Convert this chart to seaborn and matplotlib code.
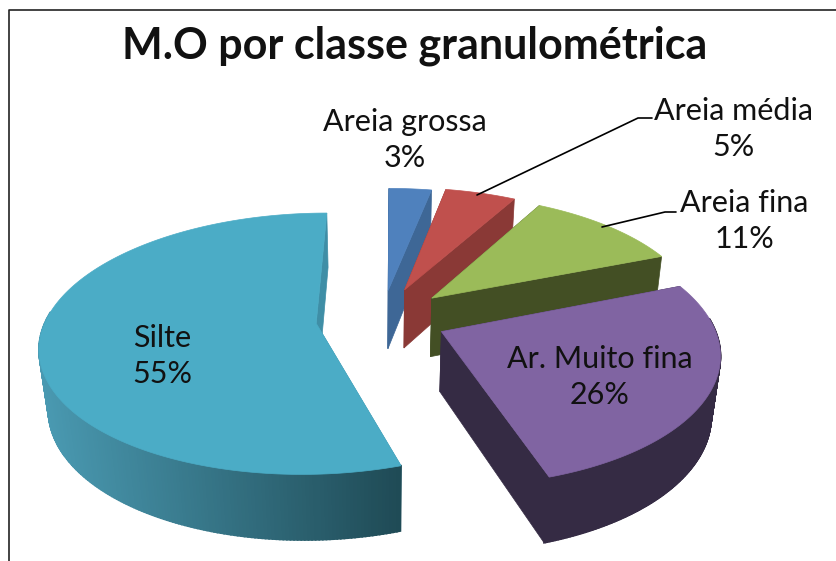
import numpy as np
import seaborn as sns
import matplotlib.pyplot as plt
from matplotlib.colors import to_rgb
from matplotlib.patches import Polygon

# data
categories = ["Areia grossa", "Areia média", "Areia fina", "Ar. Muito fina", "Silte"]
values = [3, 5, 11, 26, 55]
title = "M.O por classe granulométrica"

top_colors = ["#4f81bd", "#c0504d", "#9bbb59", "#8064a2", "#4bacc6"]
side_colors = ["#3e6796", "#8a3936", "#434f24", "#352b44", "#3f8ea6"]
arc_left = ["#3e6796", "#8a3936", "#434f24", "#352b44", "#4a9ab2"]
arc_right = ["#3e6796", "#8a3936", "#434f24", "#352b44", "#1f4a55"]
explode = [0.23, 0.25, 0.25, 0.24, 0.245]

label_pos = [(405, 140), (733, 129), (744, 221), (600, 377), (162, 356)]
leaders = [None, [(477, 195), (638, 118), (652, 118)], [(602, 227), (665, 212), (676, 212)], None, None]

# projection settings
x0, y0 = 382, 318.5
rx, ry = 270, 126
depth = 61
k, m = 0.155, 0.027
skew = 2

sns.set_theme(style="white")
plt.rcParams["font.family"] = ["Lato", "DejaVu Sans"]


def project(x, y, z=0.0):
    s = 1 / (1 + k * np.asarray(y) + m * z)
    return np.column_stack([x0 + (rx * np.asarray(x) + skew * np.asarray(y)) * s,
                            y0 - ry * np.asarray(y) * s + depth * z * s])


fig = plt.figure(figsize=(8.36, 5.61), dpi=100)
ax = fig.add_axes([0, 0, 1, 1])
wedges, _ = ax.pie(values, explode=explode, startangle=90, counterclock=False, colors=sns.color_palette(top_colors))
for w in wedges:
    w.set_visible(False)
ax.set_aspect("auto")
ax.set_xlim(0, 836)
ax.set_ylim(561, 0)
ax.axis("off")

for i, w in enumerate(wedges):
    cx, cy = w.center
    t = np.radians(np.linspace(w.theta1, w.theta2, 300))
    ax_x = cx + w.r * np.cos(t)
    ax_y = cy + w.r * np.sin(t)
    apex_t, apex_b = project([cx], [cy]), project([cx], [cy], 1)
    rim_t, rim_b = project(ax_x, ax_y), project(ax_x, ax_y, 1)
    side = dict(fc=side_colors[i], ec=side_colors[i], lw=0.5)

    # radial faces
    for j in (0, -1):
        ax.add_patch(Polygon([apex_t[0], rim_t[j], rim_b[j], apex_b[0]], **side))

    # rim, shaded from left to right; the far part is hidden under the top
    xmin, xmax = rim_t[:, 0].min(), rim_t[:, 0].max()
    c0, c1 = np.array(to_rgb(arc_left[i])), np.array(to_rgb(arc_right[i]))
    for j in range(len(t) - 1):
        if np.sin(t[j]) > 0.1:
            continue
        f = (rim_t[j, 0] - xmin) / (xmax - xmin)
        col = c0 + (c1 - c0) * f
        ax.add_patch(Polygon([rim_t[j], rim_t[j + 1], rim_b[j + 1], rim_b[j]], fc=col, ec=col, lw=1.2))

    ax.add_patch(Polygon(np.vstack([apex_t, rim_t]), fc=top_colors[i], ec=top_colors[i], lw=0.5))

for i, name in enumerate(categories):
    ax.text(*label_pos[i], f"{name}\n{values[i]}%", ha="center", va="center", fontsize=22, color="#111111", linespacing=1.32)
    if leaders[i]:
        ax.plot(*zip(*leaders[i]), color="black", lw=1.2)

ax.text(415, 46, title, ha="center", va="center", fontsize=31, fontweight="bold", color="#111111")

# chart frame, cut off at the right and bottom of the screenshot
ax.plot([836, 9, 9], [10, 10, 561], color="#222222", lw=1.2)

fig.savefig("out.png", dpi=100)
